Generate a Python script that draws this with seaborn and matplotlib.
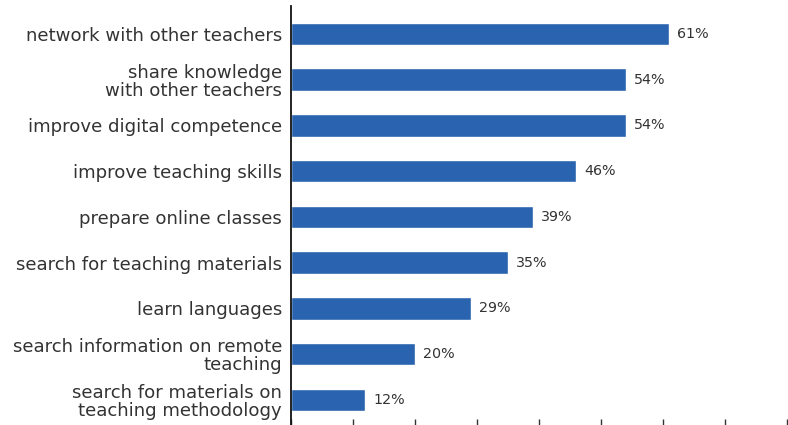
import matplotlib
matplotlib.use("Agg")
import matplotlib.pyplot as plt
import seaborn as sns
import pandas as pd

activities = [
    "network with other teachers",
    "share knowledge\nwith other teachers",
    "improve digital competence",
    "improve teaching skills",
    "prepare online classes",
    "search for teaching materials",
    "learn languages",
    "search information on remote\nteaching",
    "search for materials on\nteaching methodology",
]
shares = [61, 54, 54, 46, 39, 35, 29, 20, 12]
x_ticks = [0, 10, 20, 30, 40, 50, 60, 70, 80]

bar_color = "#2a64b0"
text_color = "#333333"

sns.set_theme(style="white")
plt.rcParams["font.family"] = ["DejaVu Sans"]

df = pd.DataFrame({"activity": activities, "share": shares})

fig = plt.figure(figsize=(7.88, 4.25), dpi=100)
ax = fig.add_axes([291 / 788, 0.0, 496 / 788, 419 / 425])

sns.barplot(data=df, x="share", y="activity", orient="h", color=bar_color,
            saturation=1, width=0.49, ax=ax)

for i, v in enumerate(shares):
    ax.text(v + 1.3, i, f"{v}%", va="center", ha="left", fontsize=10.3,
            color=text_color)

ax.set_xlim(0, 80)
ax.set_ylim(8.55, -0.61)
ax.set_xticks(x_ticks)
ax.set_xticklabels([])
ax.tick_params(axis="x", direction="in", length=4, width=1, color="#333333",
               bottom=True)
ax.tick_params(axis="y", left=False, length=0, pad=6.5)
for lbl in ax.get_yticklabels():
    lbl.set_fontsize(13.1)
    lbl.set_color(text_color)
    lbl.set_linespacing(1.02)
ax.set_xlabel("")
ax.set_ylabel("")

for side in ["top", "right", "bottom"]:
    ax.spines[side].set_visible(False)
ax.spines["left"].set_color("#111111")
ax.spines["left"].set_linewidth(1.3)

fig.savefig("out.png", dpi=100)
